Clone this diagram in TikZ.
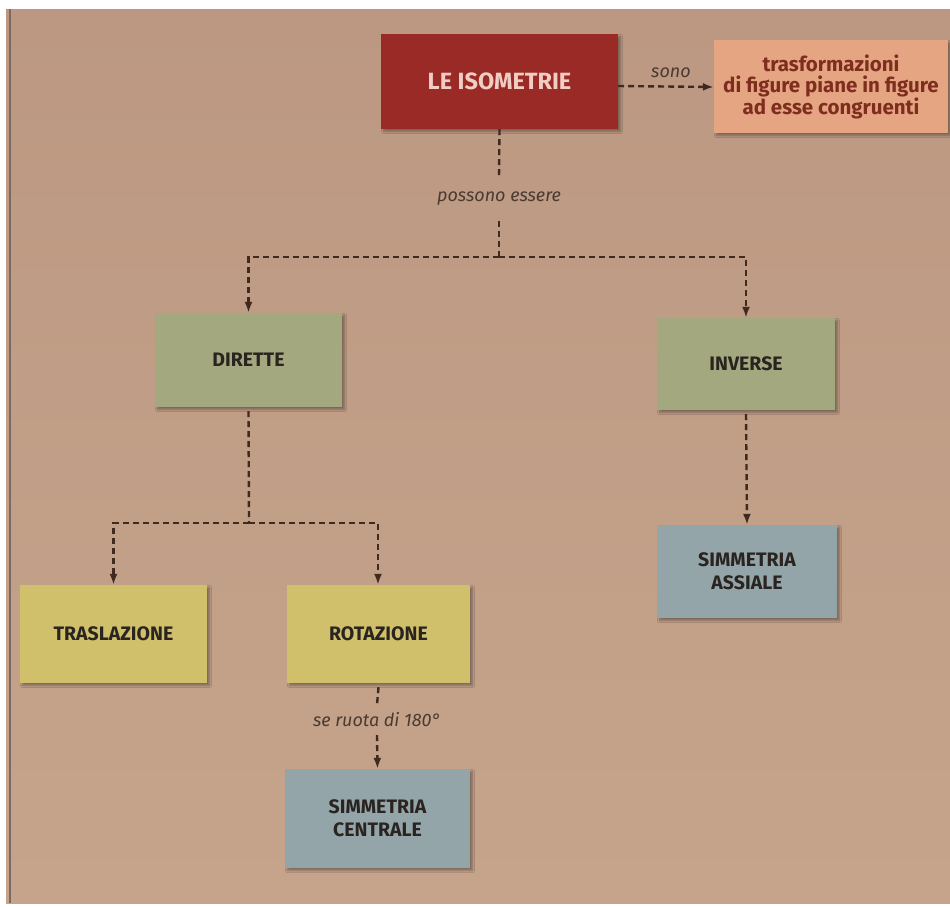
\documentclass[tikz,border=0pt]{standalone}
\usepackage{fontspec}
\setmainfont{Fira Sans}
\usetikzlibrary{arrows.meta,shadows.blur,calc}
\definecolor{bgtop}{HTML}{BC9882}
\definecolor{bgbot}{HTML}{C6A48B}
\definecolor{isored}{HTML}{9A2A26}
\definecolor{isotext}{HTML}{F2CDC4}
\definecolor{peach}{HTML}{E5A583}
\definecolor{peachtext}{HTML}{7E2D1F}
\definecolor{sage}{HTML}{A4A87F}
\definecolor{mustard}{HTML}{D0C06B}
\definecolor{steel}{HTML}{94A5AA}
\definecolor{boxtext}{HTML}{2A2420}
\definecolor{linebrown}{HTML}{3F2A20}
\definecolor{labeltext}{HTML}{4A3A30}
\begin{document}
\begin{tikzpicture}[x=1pt,y=-1pt,
  box/.style={rectangle, inner sep=0pt, align=center, font=\bfseries\fontsize{19.5}{23}\selectfont, text=boxtext,
    blur shadow={shadow xshift=2.5pt, shadow yshift=-2.5pt, shadow blur steps=6, shadow opacity=35}},
  lbl/.style={inner sep=0pt, font=\itshape\fontsize{18}{21}\selectfont, text=labeltext},
  conn/.style={draw=linebrown, line width=2.4pt, dash pattern=on 6pt off 4pt},
  arr/.style={conn, -{Latex[length=11pt,width=8pt]}}
]
\useasboundingbox (0,0) rectangle (950,906);
\fill[white] (0,0) rectangle (950,906);
\shade[top color=bgtop, bottom color=bgbot] (6,9) rectangle (950,903);
\draw[color=linebrown!70, line width=2pt] (10,9) -- (10,903);

\node[box, fill=isored, text=isotext, minimum width=237pt, minimum height=95pt,
  font=\bfseries\fontsize{23.5}{27}\selectfont] (iso) at (499.5,81.5) {LE ISOMETRIE};
\node[box, fill=peach, text=peachtext, minimum width=234pt, minimum height=93pt,
  font=\bfseries\fontsize{20.5}{21.5}\selectfont] (trasf) at (831,86.5) {trasformazioni\\di figure piane in figure\\ad esse congruenti};
\node[box, fill=sage, minimum width=187pt, minimum height=94pt] (dir) at (248.5,360) {DIRETTE};
\node[box, fill=sage, minimum width=178pt, minimum height=92pt] (inv) at (746,364) {INVERSE};
\node[box, fill=mustard, minimum width=187pt, minimum height=98pt] (tras) at (113.5,634) {TRASLAZIONE};
\node[box, fill=mustard, minimum width=183pt, minimum height=98pt] (rot) at (378.5,634) {ROTAZIONE};
\node[box, fill=steel, minimum width=180pt, minimum height=93pt] (sa) at (747,571.5) {SIMMETRIA\\ASSIALE};
\node[box, fill=steel, minimum width=185pt, minimum height=99pt] (sc) at (377.5,818.5) {SIMMETRIA\\CENTRALE};

\node[lbl] (sono) at (671,73) {sono};
\node[lbl, minimum height=43pt] (pe) at (499,199) {possono essere};
\node[lbl, minimum height=30pt] (sr) at (377,720) {se ruota di 180°};
\coordinate (j) at (499,257);
\coordinate (k) at (249,523);

\draw[arr] ([yshift=-4.5pt]iso.east) -- ([yshift=-0.5pt]trasf.west);
\draw[conn] (iso.south) -- (pe.north);
\draw[conn] (pe.south) -- (j);
\draw[arr] (j) -| (dir.north);
\draw[arr] (j) -| (inv.north);
\draw[conn] ([yshift=-4pt]dir.south) -- (k);
\draw[arr] (k) -| (tras.north);
\draw[arr] (k) -| ([xshift=-0.5pt]rot.north);
\draw[conn] ([yshift=-4pt]rot.south) -- (sr.north);
\draw[arr] (sr.south) -- (sc.north);
\draw[arr] ([yshift=-4pt]inv.south) -- (sa.north);
\end{tikzpicture}
\end{document}
